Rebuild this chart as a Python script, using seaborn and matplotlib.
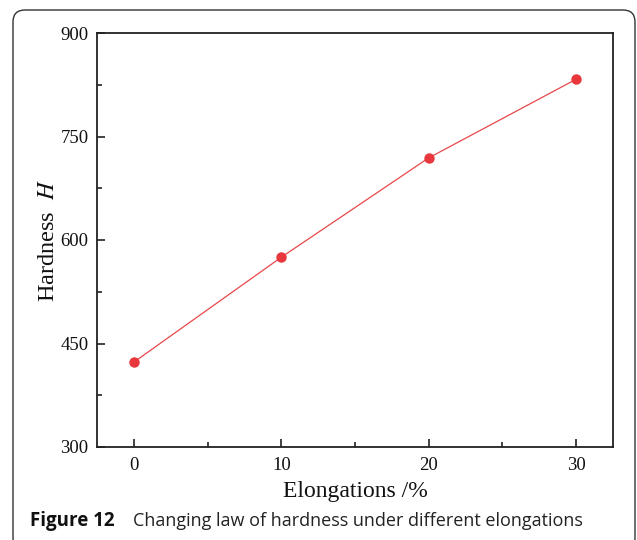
import matplotlib
matplotlib.use("Agg")
import matplotlib.pyplot as plt
import seaborn as sns
import pandas as pd
from matplotlib.patches import FancyBboxPatch
from matplotlib.transforms import IdentityTransform

elongation = [0, 10, 20, 30]
hardness = [423, 575, 719, 833]
x_ticks = [0, 10, 20, 30]
y_ticks = [300, 450, 600, 750, 900]

sns.set_theme(style="white")
plt.rcParams['font.family'] = ['Liberation Serif', 'DejaVu Serif']
plt.rcParams['mathtext.fontset'] = 'stix'

df = pd.DataFrame({"Elongation": elongation, "Hardness": hardness})

fig = plt.figure(figsize=(6.37, 5.4), dpi=100)
ax = fig.add_axes([97/637, 1-447/540, (613-97)/637, (447-33)/540])

sns.lineplot(data=df, x="Elongation", y="Hardness", ax=ax, color="#e8474a",
             linewidth=0.9, marker="o", markersize=7.5, markeredgewidth=0,
             markerfacecolor="#e8383d")

ax.set_xlim(-2.5, 32.5)
ax.set_ylim(300, 900)
ax.set_xticks(x_ticks)
ax.set_yticks(y_ticks)
ax.set_xticks([5, 15, 25], minor=True)
ax.set_yticks([375, 525, 675, 825], minor=True)
ax.tick_params(axis='both', which='major', direction='in', length=6, width=1.2,
               labelsize=13.5, color='#222222', labelcolor='#111111')
ax.tick_params(axis='both', which='minor', direction='in', length=3.5, width=1.2,
               color='#222222')
ax.tick_params(axis='x', which='both', bottom=True, top=False, pad=7)
ax.tick_params(axis='y', which='both', left=True, right=False, pad=6)
for s in ax.spines.values():
    s.set_color('#222222')
    s.set_linewidth(1.3)

ax.set_xlabel("Elongations /%", fontsize=17, labelpad=5, color='#111111')
ax.set_ylabel("Hardness  $\\it{H}$", fontsize=17.5, labelpad=1, color='#111111')

box = FancyBboxPatch((13, -10), 622, 540, boxstyle="round,pad=0,rounding_size=12",
                     transform=IdentityTransform(), fill=False, edgecolor='#333333',
                     linewidth=1.0, clip_on=False)
fig.patches.append(box)

fig.text(30/637, 1-521/540, "Figure 12", fontsize=13.5, fontweight='bold',
         family=['Open Sans', 'DejaVu Sans'], va='center', ha='left', color='#111111')
fig.text(133/637, 1-521/540, "Changing law of hardness under different elongations",
         fontsize=13, family=['Open Sans', 'DejaVu Sans'], va='center', ha='left',
         color='#222222')

fig.savefig("out.png", dpi=100)
